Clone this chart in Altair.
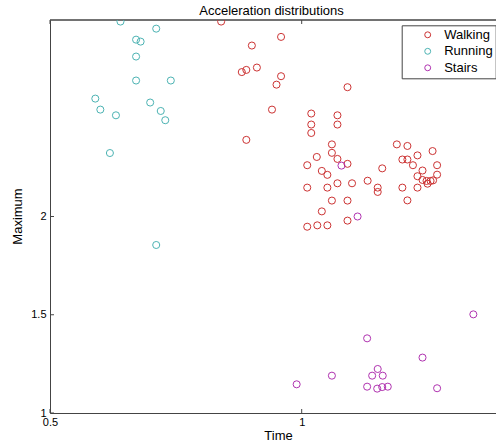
import altair as alt
import pandas as pd

# ---- data ----
walk_x = [0.840, 0.959, 0.901, 0.911, 0.890, 0.881, 0.959, 0.950, 1.091, 0.941,
          1.019, 1.071, 1.019, 1.071, 1.019, 0.890, 1.060, 1.060, 1.030, 1.071,
          1.011, 1.091, 1.160, 1.040, 1.051, 1.011, 1.051, 1.071, 1.100, 1.131,
          1.151, 1.151, 1.060, 1.091, 1.040, 1.091, 1.011, 1.031, 1.051, 1.189,
          1.210, 1.230, 1.260, 1.200, 1.210, 1.221, 1.269, 1.240, 1.230, 1.269,
          1.240, 1.248, 1.256, 1.261, 1.250, 1.200, 1.230, 1.210]
walk_y = [2.992, 2.914, 2.870, 2.758, 2.746, 2.735, 2.714, 2.671, 2.658, 2.544,
          2.524, 2.515, 2.468, 2.468, 2.425, 2.390, 2.367, 2.324, 2.303, 2.293,
          2.261, 2.268, 2.245, 2.232, 2.212, 2.147, 2.147, 2.169, 2.169, 2.182,
          2.147, 2.125, 2.081, 2.081, 2.026, 1.979, 1.948, 1.955, 1.955, 2.367,
          2.359, 2.311, 2.333, 2.290, 2.290, 2.261, 2.261, 2.234, 2.205, 2.213,
          2.186, 2.181, 2.181, 2.184, 2.167, 2.147, 2.147, 2.082]

run_x = [0.640, 0.711, 0.671, 0.680, 0.671, 0.671, 0.740, 0.590, 0.600, 0.699,
         0.720, 0.631, 0.729, 0.619, 0.711]
run_y = [2.992, 2.956, 2.900, 2.890, 2.814, 2.692, 2.692, 2.600, 2.544, 2.580,
         2.537, 2.515, 2.490, 2.323, 1.855]

stairs_x = [1.079, 1.111, 1.341, 1.130, 1.240, 1.151, 1.060, 1.140, 1.161, 0.990,
            1.130, 1.150, 1.160, 1.171, 1.269]
stairs_y = [2.259, 2.000, 1.502, 1.380, 1.282, 1.224, 1.190, 1.190, 1.190, 1.146,
            1.134, 1.124, 1.132, 1.134, 1.126]

classes = ["Walking", "Running", "Stairs"]
colors = ["#cc3333", "#4cb3b3", "#b033b0"]
x_ticks = [0.5, 1.0]
y_ticks = [1.0, 1.5, 2.0]

rows = []
for cls, xs_, ys_ in zip(classes, [walk_x, run_x, stairs_x], [walk_y, run_y, stairs_y]):
    for a, b in zip(xs_, ys_):
        rows.append({"Time": a, "Maximum": b, "cls": cls, "idx": len(rows)})
df = pd.DataFrame(rows)

W, H = 446, 393
FONT = "Liberation Sans"
AX = "#444444"

xs = alt.Scale(domain=[0.5, 1.386], nice=False, zero=False)
ys = alt.Scale(domain=[1.0, 3.0], nice=False, zero=False)

x_axis = alt.Axis(
    values=x_ticks, format="~g", ticks=False, grid=False,
    domainColor=AX, domainWidth=1, labelFlush=False,
    labelPadding=3, labelFontSize=11, labelColor="#000000",
    title="Time", titleFontSize=13, titleFontWeight="normal",
    titleColor="#000000", titleX=228, titleY=16, titleAlign="center",
    titleBaseline="top")
y_axis = alt.Axis(
    values=y_ticks, format="~g", ticks=False, grid=False,
    domainColor=AX, domainWidth=1,
    labelPadding=4, labelFontSize=11, labelColor="#000000",
    title="Maximum", titleFontSize=13, titleFontWeight="normal",
    titleColor="#000000", titleX=-26, titleY=196, titleAngle=270,
    titleAlign="center", titleBaseline="bottom")

points = alt.Chart(df).mark_point(
    shape="circle", filled=False, size=50, strokeWidth=1, opacity=1, clip=True
).encode(
    x=alt.X("Time:Q", scale=xs, axis=x_axis),
    y=alt.Y("Maximum:Q", scale=ys, axis=y_axis),
    color=alt.Color("cls:N", scale=alt.Scale(domain=classes, range=colors),
                    legend=alt.Legend(
                        title=None, orient="none", legendX=351.7, legendY=5.3,
                        strokeColor=AX, fillColor="white", padding=3,
                        symbolType="circle", symbolSize=35, symbolStrokeWidth=1,
                        symbolFillColor="transparent", symbolOffset=16.5,
                        labelOffset=10, labelFontSize=13, labelColor="#000000",
                        rowPadding=2.5)),
    order=alt.Order("idx:Q"),
)

xt = pd.DataFrame({"Time": x_ticks})
yt = pd.DataFrame({"Maximum": y_ticks})

top_line = alt.Chart(xt).mark_rule(color=AX, strokeWidth=1).encode(
    x=alt.value(0), x2=alt.value(W + 5), y=alt.value(0))
xtick_b = alt.Chart(xt).mark_rule(color=AX, strokeWidth=1).encode(
    x=alt.X("Time:Q", scale=xs, axis=x_axis), y=alt.value(H), y2=alt.value(H - 4))
xtick_t = alt.Chart(xt).mark_rule(color=AX, strokeWidth=1).encode(
    x=alt.X("Time:Q", scale=xs, axis=x_axis), y=alt.value(0), y2=alt.value(4))
ytick = alt.Chart(yt).mark_rule(color=AX, strokeWidth=1).encode(
    y=alt.Y("Maximum:Q", scale=ys, axis=y_axis), x=alt.value(0), x2=alt.value(4))

chart = alt.layer(top_line, xtick_b, xtick_t, ytick, points).properties(
    width=W, height=H,
    autosize=alt.AutoSizeParams(type="none"),
    padding={"left": 50, "top": 20, "right": 0, "bottom": 32},
    title=alt.TitleParams("Acceleration distributions", fontSize=13,
                          fontWeight="normal", color="#000000", font=FONT,
                          anchor="middle", frame="group", baseline="bottom",
                          offset=3, dx=-1.5, dy=14),
).configure(font=FONT).configure_view(stroke=None)

chart.save("out.html", embed_options={"renderer": "svg", "actions": False})
